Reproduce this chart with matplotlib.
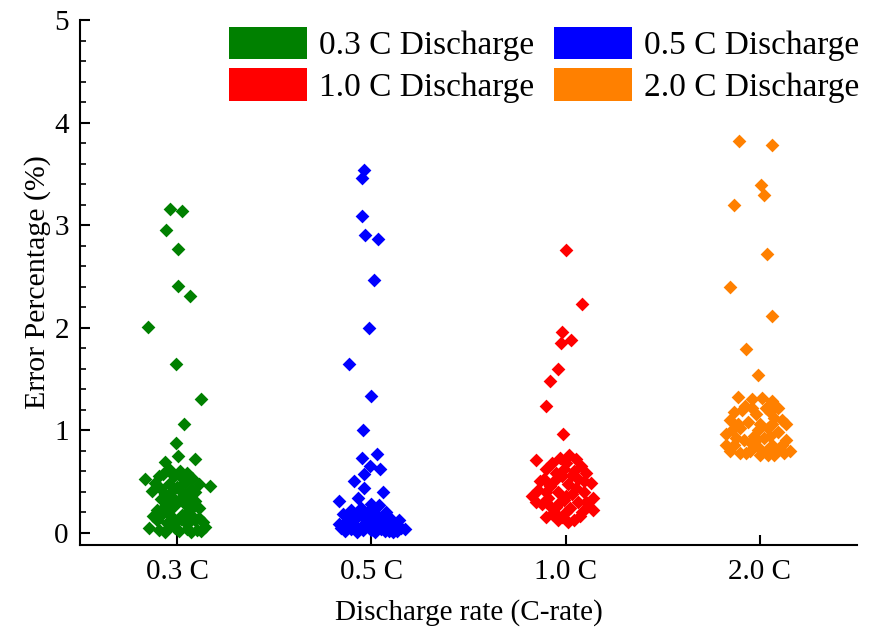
import numpy as np
import matplotlib
matplotlib.use("Agg")
import matplotlib.pyplot as plt
from matplotlib.patches import Patch
from matplotlib.ticker import MultipleLocator

plt.rcParams['font.family'] = ['Liberation Serif', 'DejaVu Serif']

categories = ['0.3 C', '0.5 C', '1.0 C', '2.0 C']
legend_labels = ['0.3 C Discharge', '0.5 C Discharge', '1.0 C Discharge', '2.0 C Discharge']
colors = ['#008000', '#0000ff', '#ff0000', '#ff8000']

# error values (%) for each discharge rate, with the horizontal jitter (in px) used to spread them
err_03 = [3.16, 3.14, 2.95, 2.77, 2.41, 2.31, 2.01, 1.65, 1.30, 1.06, 0.87, 0.75, 0.72, 0.69, 0.52, 0.46,
          0.62, 0.60, 0.57, 0.58, 0.55, 0.53,
          0.48, 0.44, 0.47, 0.45, 0.49, 0.43, 0.47, 0.41, 0.40, 0.38,
          0.35, 0.33, 0.36, 0.30, 0.28, 0.31, 0.26, 0.23, 0.22,
          0.18, 0.15, 0.17, 0.16, 0.14, 0.12, 0.11, 0.10,
          0.05, 0.03, 0.06, 0.02, 0.04, 0.03, 0.06, 0.01,
          0.55, 0.52, 0.42, 0.40, 0.33, 0.30, 0.24, 0.26, 0.20, 0.22,
          0.09, 0.08, 0.12, 0.16, 0.13, 0.05, 0.01, 0.02]
jit_03 = [-7, 5, -11, 1, 1, 13, -29, -1, 24, 7, -1, 1, 18, -12, -32, 33,
          -8, 3, -14, 10, -3, 15,
          -22, -17, -8, 0, 8, 14, 22, -25, 5, -12,
          -5, 3, 12, -10, 8, 18, -3, 14, -8,
          -15, -5, 5, 15, 22, -20, 0, 26,
          -28, -18, -8, 2, 10, 20, 28, -12,
          -18, 6, -4, 18, -16, 0, 22, -12, 10, -20,
          -10, 10, 18, -24, 4, -2, 14, 24]

err_05 = [3.54, 3.46, 3.09, 2.90, 2.86, 2.46, 2.00, 1.65, 1.33, 1.00, 0.77, 0.73, 0.65, 0.62, 0.57,
          0.50, 0.44, 0.40, 0.34, 0.31, 0.27, 0.18,
          0.22, 0.24, 0.28, 0.20, 0.18, 0.20, 0.13, 0.14, 0.12, 0.10, 0.10, 0.08,
          0.05, 0.05, 0.04, 0.06, 0.03, 0.04, 0.02, 0.01, 0.01, 0.01, 0.08, 0.14,
          0.16, 0.18, 0.15, 0.08, 0.10, 0.12, 0.08, 0.03, 0.06, 0.02, 0.02, 0.02,
          0.10, 0.08, 0.04, 0.22, 0.16]
jit_05 = [-7, -9, -9, -6, 7, 3, -2, -22, 0, -8, 6, -9, -1, 9, -7,
          -17, -7, 12, -13, -32, 8, -28,
          -20, -10, 0, -3, 5, 15, 20, -15, -5, 8, -25, 25,
          30, -30, -20, -10, 0, 10, 18, -14, 4, 22, -5, 12,
          -24, -12, 2, 12, 18, 28, -18, -8, 6, 14, 26, -26,
          -2, -32, 34, 2, -8]

err_10 = [2.76, 2.23, 1.96, 1.88, 1.85, 1.60, 1.48, 1.24, 0.96, 0.71,
          0.76, 0.73, 0.72, 0.68, 0.68, 0.65, 0.62, 0.60, 0.58, 0.58,
          0.52, 0.55, 0.52, 0.48, 0.46, 0.47, 0.42, 0.40, 0.40, 0.38,
          0.36, 0.34, 0.34, 0.32, 0.30, 0.28, 0.26, 0.25, 0.24,
          0.18, 0.20, 0.15, 0.12, 0.12, 0.20,
          0.50, 0.50, 0.56, 0.50, 0.30, 0.26, 0.22, 0.36, 0.30, 0.44,
          0.40, 0.30, 0.62, 0.20, 0.16, 0.10, 0.15]
jit_10 = [0, 16, -4, 5, -5, -8, -16, -20, -3, -30,
          3, -6, 10, -14, 0, 15, -20, 8, 20, -10,
          -22, -4, 12, 25, -16, 2, -28, -8, 18, 6,
          -34, -18, 28, -2, 12, -24, 22, -10, 4,
          -14, 16, -4, 8, -8, 0,
          -26, -12, 6, 18, -30, -16, 28, 0, -6, 10,
          -20, 20, -2, -12, 14, 2, -20]

err_20 = [3.82, 3.78, 3.39, 3.29, 3.20, 2.72, 2.40, 2.11, 1.79, 1.54,
          1.32, 1.30, 1.31, 1.28, 1.24, 1.22, 1.18, 1.16, 1.12, 1.10,
          1.10, 1.08, 1.06, 1.02, 1.02, 0.98, 0.96, 0.94, 0.92, 0.90,
          0.90, 0.86, 0.86, 0.84, 0.82, 0.80, 0.80, 0.80, 0.78, 0.76,
          0.76, 0.80,
          1.20, 1.18, 1.22, 1.22, 1.06, 1.06, 1.06, 1.00, 1.00, 0.88,
          0.94, 0.86, 0.92, 0.78, 0.76, 0.78, 0.90, 0.86]
jit_20 = [-21, 12, 1, 4, -26, 7, -30, 12, -14, -2,
          -22, -8, 2, 12, -15, 6, -26, -4, 14, 22,
          -30, -12, 0, -20, 8, 18, -34, -6, 4, -16,
          26, -26, 12, -2, 20, -10, 6, 30, -20, 0,
          14, -30,
          -18, 10, 18, -8, -22, 12, 26, -28, -2, -10,
          10, 22, -24, -14, 8, 24, -4, -34]

errors = [err_03, err_05, err_10, err_20]
jitters = [jit_03, jit_05, jit_10, jit_20]

fig = plt.figure(figsize=(8.75, 6.34), dpi=100)
ax = fig.add_axes([0.0914, 0.1404, 0.888, 0.828])

px_per_cat = 195.0
for i, (e, j) in enumerate(zip(errors, jitters)):
    x = (i + 1) + np.array(j) / px_per_cat
    ax.scatter(x, e, marker='D', s=49, color=colors[i], linewidths=0, zorder=3)

ax.set_xlim(0.5, 4.5)
ax.set_ylim(-0.12, 5)
ax.set_xticks([1, 2, 3, 4])
ax.set_xticklabels(categories)
ax.yaxis.set_major_locator(MultipleLocator(1))
ax.yaxis.set_minor_locator(MultipleLocator(0.2))

for side in ['top', 'right']:
    ax.spines[side].set_visible(False)
for side in ['left', 'bottom']:
    ax.spines[side].set_linewidth(1.5)

ax.tick_params(axis='y', which='major', direction='in', length=7, width=1.5, labelsize=21, pad=8)
ax.tick_params(axis='y', which='minor', direction='in', length=4, width=1.2)
ax.tick_params(axis='x', which='major', direction='in', length=7, width=1.5, labelsize=21, pad=10)

ax.set_xlabel('Discharge rate (C-rate)', fontsize=21, labelpad=10)
ax.set_ylabel('Error Percentage (%)', fontsize=21.5, labelpad=2)

# two rows: 0.3 / 0.5 on top, 1.0 / 2.0 below (legend fills column by column)
order = [0, 2, 1, 3]
handles = [Patch(facecolor=colors[k], edgecolor='none') for k in order]
labels = [legend_labels[k] for k in order]
ax.legend(handles, labels, loc='upper right', bbox_to_anchor=(0.982, 0.958),
          bbox_transform=fig.transFigure, ncol=2, frameon=False, fontsize=24,
          handlelength=2.34, handleheight=1.12, handletextpad=0.36, columnspacing=0.6,
          labelspacing=0.22, borderpad=0, borderaxespad=0)

fig.savefig('out.png', dpi=100)
